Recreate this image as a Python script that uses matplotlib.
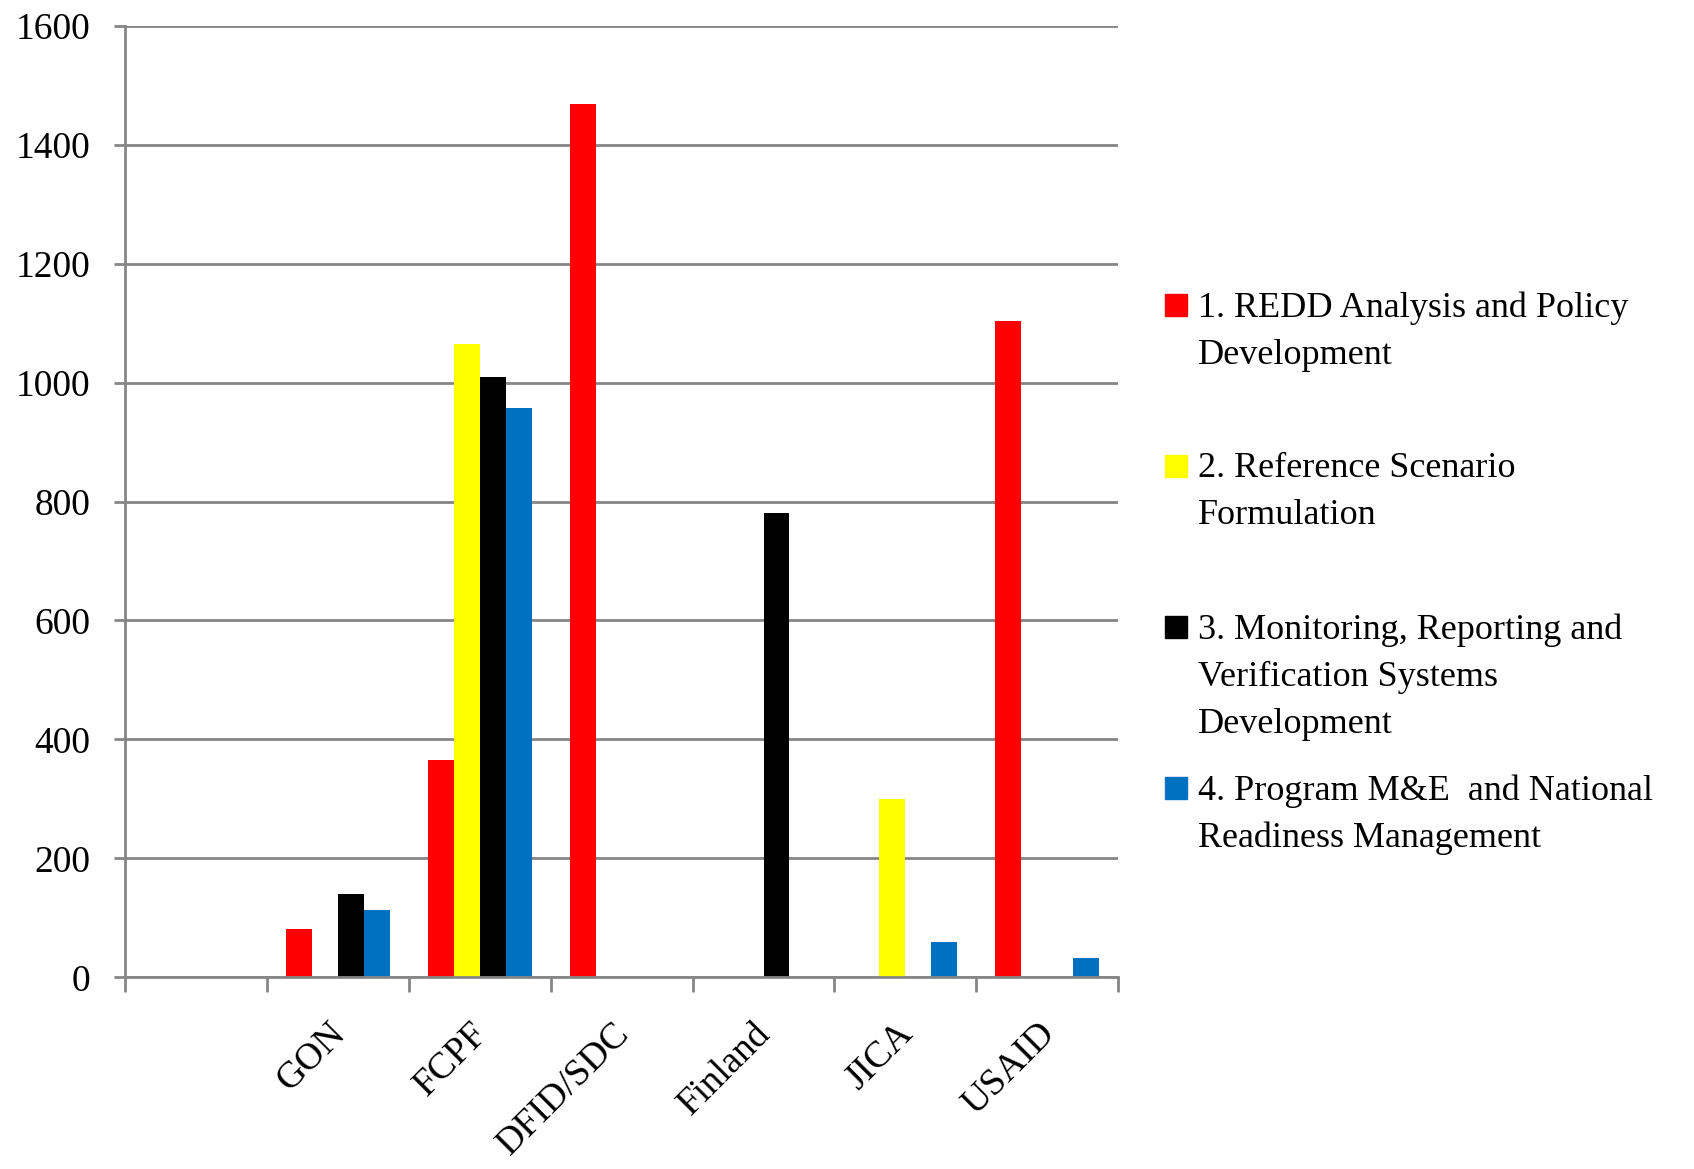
import numpy as np
import matplotlib.pyplot as plt
import matplotlib.transforms as mtransforms
from matplotlib.patches import Rectangle

plt.rcParams['font.family'] = ['Liberation Serif', 'DejaVu Serif']

# Data
donors = ["", "GON", "FCPF", "DFID/SDC", "Finland", "JICA", "USAID"]
series_names = [
    "1. REDD Analysis and Policy\nDevelopment",
    "2. Reference Scenario\nFormulation",
    "3. Monitoring, Reporting and\nVerification Systems\nDevelopment",
    "4. Program M&E  and National\nReadiness Management",
]
redd_policy = [0, 82, 365, 1468, 0, 0, 1104]
reference_scenario = [0, 0, 1065, 0, 0, 300, 0]
mrv_systems = [0, 140, 1010, 0, 780, 0, 0]
program_me = [0, 113, 958, 0, 0, 60, 33]
colors = ["#FF0000", "#FFFF00", "#000000", "#0070C0"]
yticks = [0, 200, 400, 600, 800, 1000, 1200, 1400, 1600]

series = [redd_policy, reference_scenario, mrv_systems, program_me]

fig = plt.figure(figsize=(16.94, 11.69), dpi=100)
ax = fig.add_axes([0.074, 0.164, 0.586, 0.814])

grid_col = "#868686"
x = np.arange(len(donors)) + 0.5
width = 0.183
for i, vals in enumerate(series):
    ax.bar(x + (i - 1.5) * width, vals, width, color=colors[i], zorder=3)

ax.set_xlim(0, len(donors))
ax.set_ylim(0, 1600)
ax.set_yticks(yticks)
ax.yaxis.grid(True, color=grid_col, linewidth=2, zorder=0)

# ticks at category boundaries, labels at centres
ax.set_xticks(np.arange(len(donors) + 1))
ax.set_xticklabels([])
ax.set_xticks(x, minor=True)
ax.set_xticklabels(donors, minor=True, rotation=45, ha="right",
                   rotation_mode="anchor", fontsize=27)
ax.tick_params(axis="x", which="minor", length=0, pad=28)
ax.tick_params(axis="x", which="major", length=11, width=2, color=grid_col,
               direction="out")
ax.tick_params(axis="y", length=8, width=2, color=grid_col, labelsize=27,
               pad=17)

# nudge category labels a little to the left
shift = mtransforms.ScaledTranslation(-10 / 100, 0, fig.dpi_scale_trans)
for lab in ax.get_xticklabels(minor=True):
    lab.set_transform(lab.get_transform() + shift)

for side in ["top", "right"]:
    ax.spines[side].set_visible(False)
for side in ["left", "bottom"]:
    ax.spines[side].set_color(grid_col)
    ax.spines[side].set_linewidth(2)
    ax.spines[side].set_zorder(4)

# legend
W, H = fig.get_size_inches() * fig.dpi
y0 = 1 - 305 / H
step = 161 / H
for i, name in enumerate(series_names):
    yc = y0 - i * step
    fig.patches.append(Rectangle((1165 / W, yc - 11 / H), 22 / W, 22 / H,
                                 color=colors[i], transform=fig.transFigure))
    fig.text(1198 / W, yc + 14 / H, name, va="top", ha="left",
             fontsize=26, linespacing=1.56)

plt.savefig("out.png", dpi=100)
